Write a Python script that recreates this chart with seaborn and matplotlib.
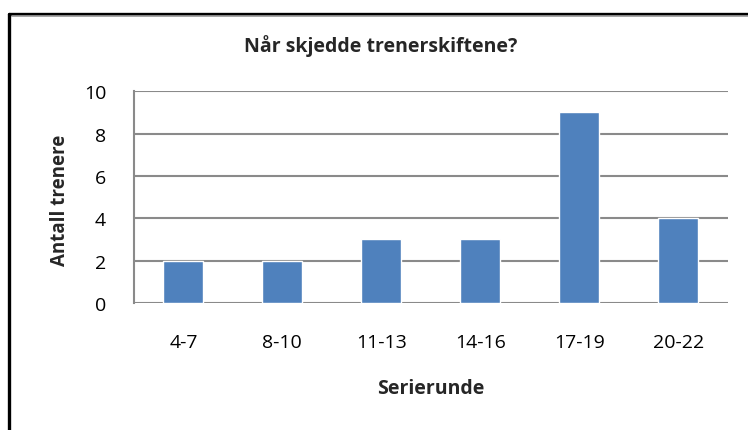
import matplotlib
matplotlib.use("Agg")
import matplotlib.pyplot as plt
from matplotlib import font_manager
from matplotlib.lines import Line2D
import pandas as pd
import seaborn as sns

# Data
rounds = ["4-7", "8-10", "11-13", "14-16", "17-19", "20-22"]
coaches = [2, 2, 3, 3, 9, 4]
y_ticks = [0, 2, 4, 6, 8, 10]

df = pd.DataFrame({"round": rounds, "count": coaches})

sns.set_style("white")
installed = {f.name for f in font_manager.fontManager.ttflist}
family = "Liberation Sans Narrow" if "Liberation Sans Narrow" in installed else "Open Sans"
plt.rcParams["font.family"] = [family, "DejaVu Sans"]

fig = plt.figure(figsize=(7.48, 4.31), dpi=100)
ax = fig.add_axes([0.179, 0.295, 0.794, 0.491])

sns.barplot(data=df, x="round", y="count", color="#4F81BD", saturation=1,
            width=0.405, ax=ax, zorder=3)

# Axes styling, Excel-like
ax.set_ylim(0, 10)
ax.set_yticks(y_ticks)
ax.set_xlim(-0.5, len(rounds) - 0.5)
ax.yaxis.grid(True, color="#8a8a8a", linewidth=1.5)
ax.set_axisbelow(True)
for side in ["top", "right", "bottom"]:
    ax.spines[side].set_visible(False)
ax.spines["left"].set_color("#8a8a8a")
ax.spines["left"].set_linewidth(1.5)
ax.tick_params(axis="y", length=8, width=1.5, color="#8a8a8a", pad=12,
               labelsize=14, labelcolor="black")
ax.tick_params(axis="x", length=0, pad=22, labelsize=14, labelcolor="black")

ax.set_title("Når skjedde trenerskiftene?", fontsize=14, fontweight="bold",
             x=0.416, y=1.217, va="center", pad=0)
ax.set_xlabel("Serierunde", fontsize=14, fontweight="bold")
ax.xaxis.set_label_coords(0.5, -0.40)
ax.xaxis.label.set_va("center")
ax.set_ylabel("Antall trenere", fontsize=13.5, fontweight="bold")
ax.yaxis.set_label_coords(-0.125, 0.49)
ax.yaxis.label.set_va("center")

# Frame border at top and left
W, H = 748, 431
fig.add_artist(Line2D([8.5 / W, 8.5 / W], [0, 1 - 14.5 / H], color="black",
                      linewidth=2.4, transform=fig.transFigure))
fig.add_artist(Line2D([8.5 / W, 1], [1 - 14.5 / H, 1 - 14.5 / H], color="black",
                      linewidth=2.4, transform=fig.transFigure))
fig.add_artist(Line2D([12 / W, 1], [1 - 16.5 / H, 1 - 16.5 / H], color="#a0a0a0",
                      linewidth=1.2, transform=fig.transFigure))

fig.savefig("out.png", dpi=100)
